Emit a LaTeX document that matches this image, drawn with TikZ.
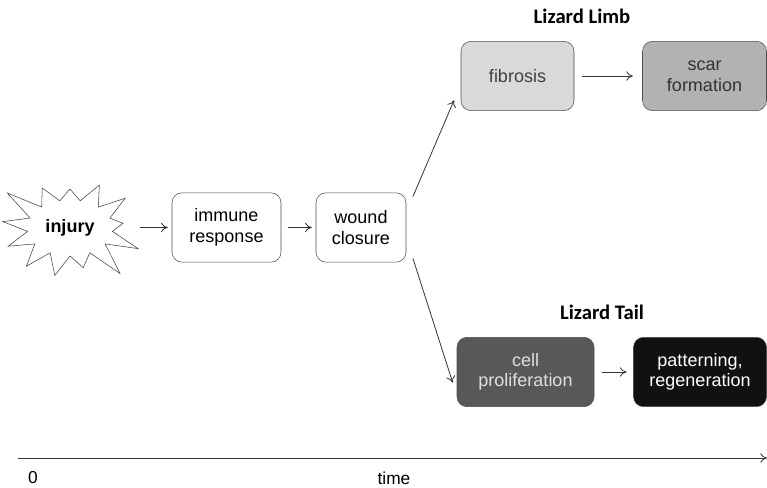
\documentclass[tikz,border=0pt]{standalone}
\usepackage{fontspec}
\setmainfont{Liberation Sans}
\newfontfamily\titlefont{Carlito}
\usetikzlibrary{shapes.symbols, arrows.meta}
\definecolor{fibrogray}{HTML}{D9D9D9}
\definecolor{scargray}{HTML}{B2B2B2}
\definecolor{cellgray}{HTML}{585858}
\definecolor{patgray}{HTML}{111111}
\begin{document}
\begin{tikzpicture}[x=0.75pt, y=-0.75pt,
    stagebox/.style = {draw=black!70, rounded corners=7.5pt, align=center, font=\fontsize{13.5}{15.5}\selectfont, minimum height=52pt, inner sep=2pt},
    flow/.style = {-{To[length=5pt,width=7pt]}, draw=black!80, line width=0.6pt},
    grouptitle/.style = {font=\titlefont\bfseries\fontsize{15.5}{17}\selectfont}]
    \useasboundingbox (0,0) rectangle (767,488);
    \node[starburst, draw=black!75, fill=white, starburst points=13, starburst point height=26pt, random starburst=3, minimum width=116pt, minimum height=94pt, inner sep=0pt, font=\bfseries\fontsize{13.5}{15.5}\selectfont] (injury) at (70,228) {injury};
    \node[stagebox, minimum width=81.75pt] (immune) at (226.5,227.5) {immune\\response};
    \node[stagebox, minimum width=67.5pt] (wound) at (361,227.5) {wound\\closure};
    \node[stagebox, fill=fibrogray, text=black!75, minimum width=84.75pt] (fibrosis) at (517.5,76) {fibrosis};
    \node[stagebox, fill=scargray, text=black!80, minimum width=93pt] (scar) at (704.5,76) {scar\\formation};
    \node[stagebox, fill=cellgray, text=black!12, minimum width=102.75pt] (cell) at (525.5,372) {cell\\proliferation};
    \node[stagebox, fill=patgray, text=white, minimum width=99.75pt] (pattern) at (700,372) {patterning,\\regeneration};
    \node[grouptitle] (limb) at (582,16) {Lizard Limb};
    \node[grouptitle] (tail) at (602,312) {Lizard Tail};
    \draw[flow] ([xshift=-24pt]immune.west) -- ([xshift=-3pt]immune.west);
    \draw[flow] ([xshift=5pt]immune.east) -- ([xshift=-3pt]wound.west);
    \draw[flow] ([shift={(5pt,-3pt)}]wound.north east) -- ([shift={(-5pt,8pt)}]fibrosis.south west);
    \draw[flow] ([shift={(5pt,3pt)}]wound.south east) -- ([shift={(-3pt,-8pt)}]cell.west);
    \draw[flow] ([xshift=6pt]fibrosis.east) -- ([xshift=-7pt]scar.west);
    \draw[flow] ([xshift=6pt]cell.east) -- ([xshift=-5pt]pattern.west);
    % time axis
    \coordinate (t0) at (18,458);
    \coordinate (t1) at (767,458);
    \draw[flow] (t0) -- (t1);
    \node[font=\fontsize{13}{15}\selectfont] (zero) at (33,478) {0};
    \node[font=\fontsize{13}{15}\selectfont] (time) at (394,478) {time};
\end{tikzpicture}
\end{document}
